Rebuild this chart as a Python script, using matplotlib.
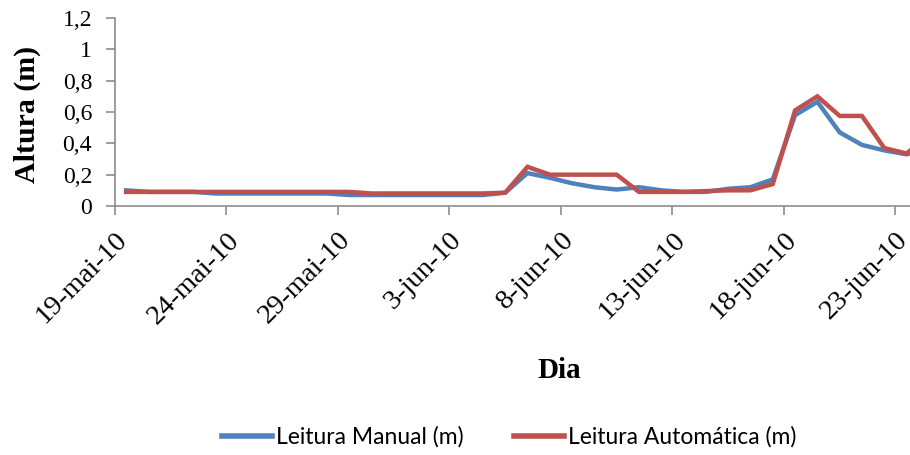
import numpy as np
import matplotlib
matplotlib.use("Agg")
import matplotlib.pyplot as plt
import matplotlib.dates as mdates
from matplotlib.ticker import FuncFormatter
import datetime as dt

# Daily readings starting 19 May 2010
start = dt.date(2010, 5, 19)
manual = [0.10, 0.09, 0.09, 0.09, 0.08, 0.08, 0.08, 0.08, 0.08, 0.08,
          0.07, 0.07, 0.07, 0.07, 0.07, 0.07, 0.07, 0.085, 0.21, 0.18,
          0.145, 0.12, 0.105, 0.12, 0.10, 0.09, 0.09, 0.11, 0.12, 0.17,
          0.58, 0.665, 0.47, 0.39, 0.355, 0.33, 0.36]
automatic = [0.09, 0.09, 0.09, 0.09, 0.09, 0.09, 0.09, 0.09, 0.09, 0.09,
             0.09, 0.08, 0.08, 0.08, 0.08, 0.08, 0.08, 0.085, 0.25, 0.20,
             0.20, 0.20, 0.20, 0.09, 0.09, 0.09, 0.095, 0.10, 0.10, 0.14,
             0.61, 0.70, 0.575, 0.575, 0.37, 0.335, 0.45]
labels = ["Leitura Manual (m)", "Leitura Automática (m)"]
colors = ["#4F81BD", "#C0504D"]
months_pt = {5: "mai", 6: "jun"}

plt.rcParams["font.family"] = "Liberation Serif"

days = [start + dt.timedelta(days=i) for i in range(len(manual))]
# each reading sits in the middle of its day slot
xpos = [mdates.date2num(d) + 0.5 for d in days]

fig = plt.figure(figsize=(9.1, 4.55), dpi=100)
ax = fig.add_axes([115 / 910, 1 - 206 / 455, 825 / 910, 188 / 455])

ax.plot(xpos, manual, color=colors[0], lw=3.2, label=labels[0],
        solid_joinstyle="miter")
ax.plot(xpos, automatic, color=colors[1], lw=3.2, label=labels[1],
        solid_joinstyle="miter")

x0 = mdates.date2num(start)
ax.set_xlim(x0, x0 + 37)
ax.set_ylim(0, 1.2)
ax.set_yticks(np.arange(0, 1.21, 0.2))
ax.yaxis.set_major_formatter(
    FuncFormatter(lambda v, p: ("%g" % round(v, 1)).replace(".", ",")))

ticks = [x0 + 5 * k for k in range(8)]
ax.set_xticks(ticks)
tick_labels = []
for t in ticks:
    d = mdates.num2date(t)
    tick_labels.append("%d-%s-10" % (d.day, months_pt[d.month]))
ax.set_xticklabels(tick_labels, rotation=45, ha="right",
                   rotation_mode="anchor")

for side in ["top", "right"]:
    ax.spines[side].set_visible(False)
for side in ["left", "bottom"]:
    ax.spines[side].set_color("#8c8c8c")
    ax.spines[side].set_linewidth(1.2)
ax.tick_params(axis="both", direction="out", length=6.5, width=1.2,
               color="#8c8c8c")
ax.tick_params(axis="y", labelsize=17, pad=10)
ax.tick_params(axis="x", labelsize=20.5, pad=9)

fig.text(27 / 910, 1 - 114 / 455, "Altura (m)", rotation=90, ha="center",
         va="center", fontweight="bold", fontsize=21.5)
fig.text(559 / 910, 1 - 370 / 455, "Dia", ha="center", va="center",
         fontweight="bold", fontsize=21)

fig.legend(loc="center", bbox_to_anchor=(509 / 910, 1 - 437 / 455), ncol=2,
           frameon=False, prop={"family": "Lato", "size": 16.5},
           handlelength=2.2, handletextpad=0.15, columnspacing=2.2)
for line in fig.legends[0].get_lines():
    line.set_linewidth(4)

fig.savefig("out.png", dpi=100)
